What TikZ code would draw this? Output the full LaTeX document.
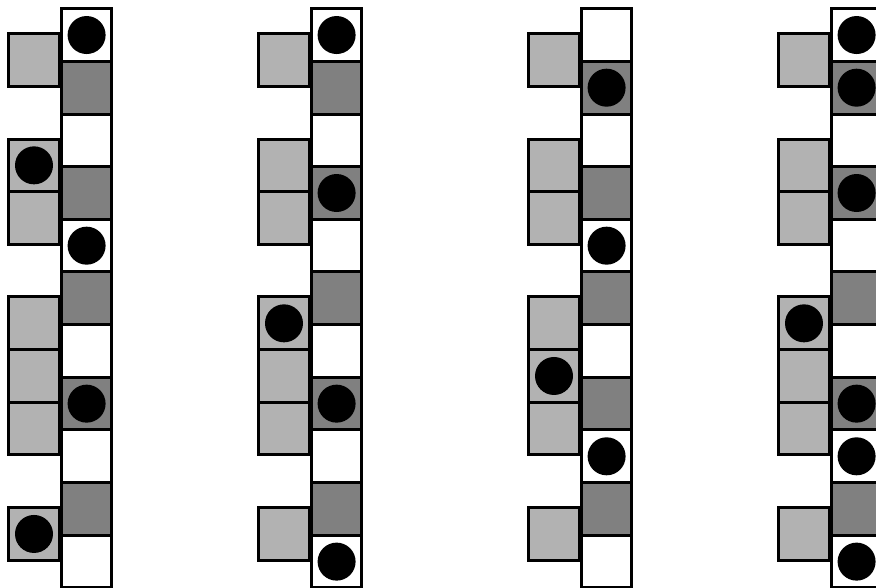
\documentclass[tikz,border=0pt]{standalone}
\usepackage{tikz}
\definecolor{sidegray}{gray}{0.70}
\definecolor{stripgray}{gray}{0.50}

\begin{document}
\begin{tikzpicture}[x=1pt, y=-1pt,
  box/.style={draw=black, line width=3pt},
  token/.style={fill=black}]
  \clip (0,0) rectangle (876,588);
  \def\ytop{8.7}
  \def\ch{52.66}

  % one ladder per column: x offset / tokens on strip / tokens on side
  \foreach \dx/\sc/\ss in {0/{0,4,7}/{2,9}, 250/{0,3,7,10}/{5},
                           520/{1,4,8}/{6}, 770/{0,1,3,7,8,10}/{5}} {
    \begin{scope}[shift={(\dx,0)}]
      % strip cells
      \foreach \k in {0,2,...,10}
        \draw[box, fill=white] (61.5,\ytop+\k*\ch) rectangle ++(50.3,\ch);
      \foreach \k in {1,3,...,9}
        \draw[box, fill=stripgray] (61.5,\ytop+\k*\ch) rectangle ++(50.3,\ch);

      % side cells
      \foreach \k in {0,2,3,5,6,7,9}
        \draw[box, fill=sidegray] (8.8,\ytop+25+\k*\ch) rectangle ++(50.5,\ch);

      % tokens
      \foreach \k in \sc
        \fill[token] (86.6,\ytop+\k*\ch+\ch/2) circle[radius=19pt];
      \foreach \k in \ss
        \fill[token] (34,\ytop+25+\k*\ch+\ch/2) circle[radius=19pt];
    \end{scope}
  }
\end{tikzpicture}
\end{document}
